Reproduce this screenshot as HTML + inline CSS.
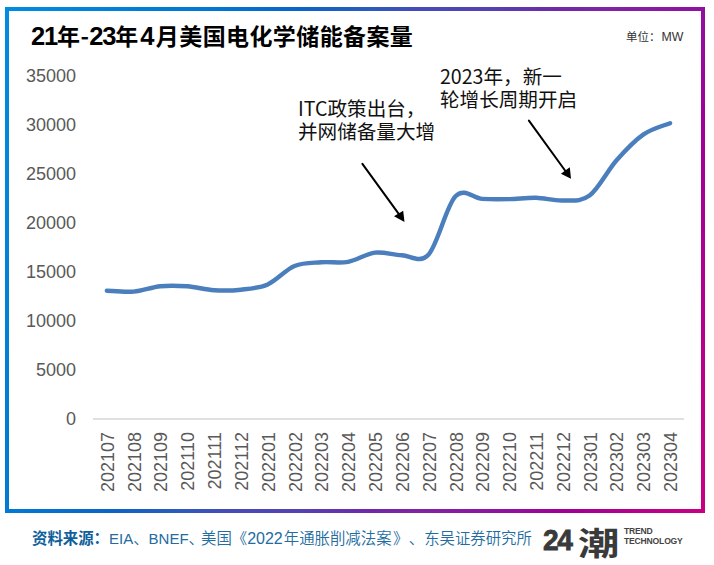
<!DOCTYPE html>
<html><head><meta charset="utf-8">
<style>
html,body{margin:0;padding:0;}
body{width:714px;height:565px;position:relative;overflow:hidden;background:#fff;}
.t{position:absolute;white-space:nowrap;}
#title{left:31px;top:20px;font-family:"Liberation Sans","Noto Sans CJK SC",sans-serif;font-weight:700;font-size:23px;letter-spacing:0.4px;color:#000;line-height:30px;}
#title .d{font-size:25.5px;letter-spacing:-1.2px;}
#title .d4{letter-spacing:1.5px;margin-left:1.5px;}
#title .h{font-family:"Noto Sans CJK SC",sans-serif;}
#unit{left:626px;top:28.5px;font-family:"Liberation Sans","Noto Sans CJK SC",sans-serif;font-size:11.5px;color:#333;line-height:16px;}
.yl{position:absolute;right:638px;font-family:"Liberation Sans","Noto Sans CJK SC",sans-serif;font-size:18px;line-height:20px;color:#595959;}
.ann{font-family:"Noto Sans CJK SC","Liberation Sans",sans-serif;font-size:19.6px;line-height:23px;color:#111;}
#a1{left:298px;top:96px;}
#a2{left:440px;top:63.5px;}
#src{left:32px;top:529px;font-family:"Liberation Sans","Noto Sans CJK SC",sans-serif;font-size:15.4px;line-height:20px;color:#236c9f;font-weight:350;}
#src .L{font-size:15px;}
#src .L2{font-size:16px;}
#src b{color:#0f5f9b;font-weight:700;}
#logo24{left:543px;top:521.5px;font-family:"Liberation Sans",sans-serif;font-weight:700;font-size:29px;line-height:36px;color:#3a3a3a;letter-spacing:-1.5px;-webkit-text-stroke:0.8px #3a3a3a;transform-origin:0 0;transform:scale(0.97,1);}
#logochao{left:578px;top:520px;font-family:"Noto Sans CJK SC",sans-serif;font-weight:700;font-size:30px;line-height:40px;color:#3a3a3a;transform-origin:0 0;transform:scale(1.38,1.05);}
#tr{left:624px;top:526px;font-family:"Liberation Sans",sans-serif;font-weight:700;font-size:8.6px;letter-spacing:-0.2px;line-height:10px;color:#444;}
.xlab{top:432px;font-family:"Liberation Sans","Noto Sans CJK SC",sans-serif;font-size:18px;line-height:20px;color:#595959;transform-origin:0 0;transform:translate(-9.2px,0) rotate(-90deg) translate(-100%,0);}
</style></head>
<body>
<svg width="714" height="565" style="position:absolute;left:0;top:0">
<defs><linearGradient id="g" gradientUnits="userSpaceOnUse" x1="0" y1="0" x2="795.1" y2="300.5"><stop offset="0.0114" stop-color="#008ce0"/><stop offset="0.2018" stop-color="#007ad2"/><stop offset="0.2205" stop-color="#007ad4"/><stop offset="0.3338" stop-color="#0a64c8"/><stop offset="0.4108" stop-color="#2d5abe"/><stop offset="0.4658" stop-color="#464bb9"/><stop offset="0.5428" stop-color="#5541b2"/><stop offset="0.6198" stop-color="#7028a8"/><stop offset="0.6748" stop-color="#8023a5"/><stop offset="0.7771" stop-color="#9110a0"/><stop offset="0.8288" stop-color="#a00096"/><stop offset="0.9861" stop-color="#c80082"/></linearGradient></defs>
<rect x="7" y="9" width="696" height="502" fill="none" stroke="url(#g)" stroke-width="4"/>
<line x1="93" y1="419" x2="684" y2="419" stroke="#e0e0e0" stroke-width="2"/>
<path d="M106.80 290.70 C111.27 290.85 124.68 292.35 133.62 291.60 C142.56 290.85 151.50 287.08 160.44 286.20 C169.38 285.32 178.32 285.63 187.26 286.30 C196.20 286.97 205.14 289.63 214.08 290.20 C223.02 290.77 231.96 290.67 240.90 289.70 C249.84 288.73 258.78 288.35 267.72 284.40 C276.66 280.45 285.60 269.68 294.54 266.00 C303.48 262.32 312.42 263.00 321.36 262.30 C330.30 261.60 339.24 263.42 348.18 261.80 C357.12 260.18 366.06 253.70 375.00 252.60 C383.94 251.50 392.88 254.90 401.82 255.20 C410.76 255.50 419.70 264.22 428.64 254.40 C437.58 244.58 446.52 205.55 455.46 196.30 C464.40 187.05 473.34 198.43 482.28 198.90 C491.22 199.37 500.16 199.28 509.10 199.10 C518.04 198.92 526.98 197.57 535.92 197.80 C544.86 198.03 553.80 200.87 562.74 200.50 C571.68 200.13 580.62 202.27 589.56 195.60 C598.50 188.93 607.44 170.67 616.38 160.50 C625.32 150.33 634.26 140.82 643.20 134.60 C652.14 128.38 665.55 125.10 670.02 123.20" fill="none" stroke="#4a7ebc" stroke-width="4.4" stroke-linecap="round" stroke-linejoin="round"/>
<line x1="362.4" y1="163.9" x2="400" y2="215.6" stroke="#000" stroke-width="2" stroke-linecap="round"/>
<polygon points="404.5,221.9 394,216.3 403.2,210.7" fill="#000"/>
<line x1="528.9" y1="120.6" x2="566.5" y2="172.5" stroke="#000" stroke-width="2" stroke-linecap="round"/>
<polygon points="571,178.7 560.9,173.8 569.8,167.2" fill="#000"/>
</svg>
<div class="t" id="title"><span class="d">21</span>年<span class="h">-</span><span class="d">23</span>年<span class="d d4">4</span>月美国电化学储能备案量</div>
<div class="t" id="unit">单位：<span style="font-size:12.3px;margin-left:1px">MW</span></div>
<div class="yl" style="top:409.2px">0</div>
<div class="yl" style="top:360.1px">5000</div>
<div class="yl" style="top:311.0px">10000</div>
<div class="yl" style="top:261.9px">15000</div>
<div class="yl" style="top:212.8px">20000</div>
<div class="yl" style="top:163.7px">25000</div>
<div class="yl" style="top:114.6px">30000</div>
<div class="yl" style="top:65.5px">35000</div>

<div id="xls">
<div class="t xlab" style="left:106.8px">202107</div><div class="t xlab" style="left:133.6px">202108</div><div class="t xlab" style="left:160.4px">202109</div><div class="t xlab" style="left:187.3px">202110</div><div class="t xlab" style="left:214.1px">202111</div><div class="t xlab" style="left:240.9px">202112</div><div class="t xlab" style="left:267.7px">202201</div><div class="t xlab" style="left:294.5px">202202</div><div class="t xlab" style="left:321.4px">202203</div><div class="t xlab" style="left:348.2px">202204</div><div class="t xlab" style="left:375.0px">202205</div><div class="t xlab" style="left:401.8px">202206</div><div class="t xlab" style="left:428.6px">202207</div><div class="t xlab" style="left:455.5px">202208</div><div class="t xlab" style="left:482.3px">202209</div><div class="t xlab" style="left:509.1px">202210</div><div class="t xlab" style="left:535.9px">202211</div><div class="t xlab" style="left:562.7px">202212</div><div class="t xlab" style="left:589.6px">202301</div><div class="t xlab" style="left:616.4px">202302</div><div class="t xlab" style="left:643.2px">202303</div><div class="t xlab" style="left:670.0px">202304</div>
</div>
<div class="t ann" id="a1">ITC政策出台，<br>并网储备量大增</div>
<div class="t ann" id="a2">2023年，新一<br>轮增长周期开启</div>
<div class="t" id="src"><b>资料来源：</b><span class="L">EIA</span>、<span class="L">BNEF</span><span style="letter-spacing:-3px">、</span>美国《<span class="L2">2022</span><span style="margin-left:1px">年</span>通胀削减法案<span style="margin-left:1.5px">》</span><span style="margin-left:8px">、</span>东吴证券研究所</div>
<div class="t" id="logo24">24</div>
<div class="t" id="logochao">潮</div>
<div class="t" id="tr">TREND<br>TECHNOLOGY</div>
</body></html>
